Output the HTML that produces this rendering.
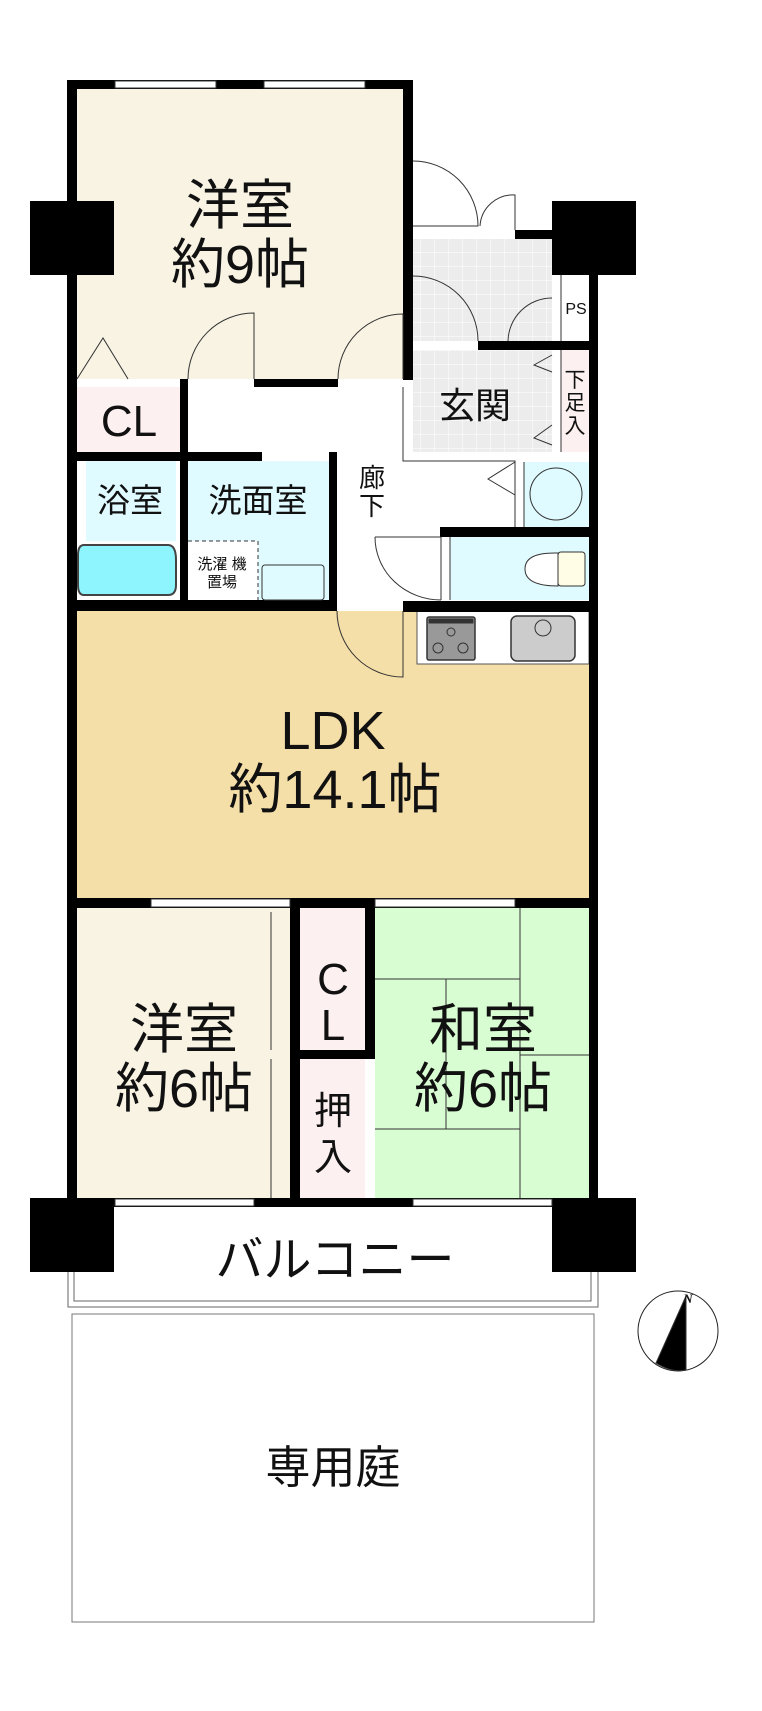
<!DOCTYPE html>
<html><head><meta charset="utf-8"><style>
html,body{margin:0;padding:0;background:#fff;}
svg{display:block}
text{font-family:"Liberation Sans","Noto Sans CJK JP",sans-serif;fill:#111;text-anchor:middle;}
</style></head><body>
<svg width="762" height="1711" viewBox="0 0 762 1711" xmlns="http://www.w3.org/2000/svg">
<defs>
<pattern id="tile" width="14" height="14" patternUnits="userSpaceOnUse">
<rect width="14" height="14" fill="#ececec"/><path d="M0 0H14M0 0V14" stroke="#fff" stroke-width="1"/></pattern>
</defs>
<!-- fills -->
<rect x="77" y="89" width="326" height="290" fill="#f8f3e3"/>
<rect x="77" y="387" width="103" height="65" fill="#fdf0f0"/>
<rect x="77" y="461" width="103" height="139" fill="#fff"/>
<rect x="86" y="461" width="90" height="80" fill="#dffbff"/>
<rect x="188" y="461" width="141" height="139" fill="#dffbff"/>
<rect x="188" y="541" width="70" height="59" fill="#fff"/>
<rect x="413" y="239" width="139" height="102" fill="url(#tile)"/>
<rect x="413" y="350" width="139" height="102" fill="url(#tile)"/>
<rect x="561" y="350" width="28" height="102" fill="#fdf0f0"/>
<rect x="524" y="462" width="65" height="65" fill="#dffbff"/>
<rect x="450" y="536" width="139" height="64" fill="#dffbff"/>
<rect x="77" y="611" width="512" height="287" fill="#f5dfa9"/>
<rect x="417" y="611" width="172" height="53" fill="#fff" stroke="#555" stroke-width="1"/>
<rect x="77" y="908" width="213" height="290" fill="#f8f3e3"/>
<rect x="300" y="908" width="65" height="142" fill="#fdf0f0"/>
<rect x="300" y="1059" width="65" height="139" fill="#fdf0f0"/>
<rect x="375" y="908" width="214" height="290" fill="#d9fdd3"/>
<g stroke="#333" stroke-width="1" fill="none">
<path d="M520 908V1198M375 979H520M446 979V1129M520 1055H589M375 1129H520"/>
</g>
<!-- walls -->
<g fill="#000">
<rect x="67" y="80" width="346" height="9"/>
<rect x="67" y="80" width="10" height="1127"/>
<rect x="403" y="80" width="10" height="300"/>
<rect x="30" y="201" width="84" height="74"/>
<rect x="552" y="201" width="84" height="74"/>
<rect x="515" y="230" width="40" height="9"/>
<rect x="589" y="275" width="9" height="932"/>
<rect x="478" y="341" width="120" height="9"/>
<rect x="254" y="379" width="84" height="8"/>
<rect x="180" y="379" width="8" height="232"/>
<rect x="67" y="452" width="195" height="9"/>
<rect x="329" y="452" width="8" height="159"/>
<rect x="440" y="527" width="158" height="10"/>
<rect x="67" y="600" width="270" height="11"/>
<rect x="403" y="601" width="195" height="11"/>
<rect x="67" y="898" width="531" height="10"/>
<rect x="290" y="908" width="10" height="299"/>
<rect x="365" y="908" width="10" height="151"/>
<rect x="300" y="1050" width="75" height="9"/>
<rect x="67" y="1198" width="531" height="9"/>
<rect x="30" y="1198" width="84" height="74"/>
<rect x="552" y="1198" width="84" height="74"/>
</g>
<!-- windows -->
<g fill="#fff" stroke="#333" stroke-width="1">
<rect x="115" y="81" width="101" height="7"/><rect x="264" y="81" width="101" height="7"/>
<rect x="151" y="899" width="139" height="8"/><rect x="375" y="899" width="140" height="8"/>
<rect x="115" y="1199" width="139" height="7"/><rect x="413" y="1199" width="139" height="7"/>
</g>
<!-- doors / arcs -->
<g stroke="#333" stroke-width="1" fill="none">
<path d="M188 379A66 66 0 0 1 254 313V379"/>
<path d="M338 379A65 65 0 0 1 403 314V379"/>
<path d="M77 379L103 338L128 379"/>
<path d="M413 161A65 65 0 0 1 478 226H413"/>
<path d="M480 226A33 33 0 0 1 515 195V230"/>
<path d="M413 276A65 65 0 0 1 478 341"/>
<path d="M508 341A44 44 0 0 1 552 298"/>
<path d="M375 537H441M375 537A66 63 0 0 0 441 600"/>
<path d="M441 537V600M450 537V600"/>
<path d="M337 611A66 66 0 0 0 403 677V611"/>
<path d="M552 355L534 365L552 372M552 425L534 438L552 445M515 462L488 479L515 495"/>
<path d="M403 387V461H515V527M515 462V527M524 462V527"/>
<path d="M561 275V341M561 350V452"/>
<circle cx="556" cy="494" r="26"/>
<path d="M258 541V600M188 541H258" stroke-dasharray="4 3"/>
<rect x="262" y="565" width="62" height="35" rx="3"/>
<path d="M84 545H168Q176 545 176 560V585Q176 595 168 595H84Q78 595 78 585V555Q78 545 84 545Z" fill="#8ef5ff" stroke="#444" stroke-width="2"/>
<path d="M558 553Q525 552 525 569Q525 586 558 586Z" fill="#fff"/>
<rect x="558" y="552" width="27" height="34" rx="3" fill="#fffde6"/>
<rect x="427" y="617" width="48" height="43" rx="2" fill="#999" stroke="#333" stroke-width="1.5"/>
<rect x="429" y="619" width="44" height="4" fill="#333"/>
<circle cx="438" cy="648" r="5"/><circle cx="463" cy="648" r="5"/><circle cx="451" cy="632" r="4"/>
<rect x="511" y="616" width="64" height="45" rx="6" fill="#ccc" stroke="#333" stroke-width="1.5"/>
<circle cx="543" cy="628" r="8" fill="#ccc"/>
<path d="M271 1059V1198M271 912V1050"/>
<!-- balcony & garden -->
<path d="M68 1272V1307H598V1272M74 1272V1301H591V1272" stroke="#666"/>
<rect x="72" y="1314" width="522" height="308" stroke="#777"/>
<ellipse cx="678" cy="1331" rx="40" ry="40" stroke="#222"/>
<path d="M686 1296L656 1363Q672 1373 686 1370Z" fill="#000"/>
</g>
<text x="688" y="1303" style="font-size:13px;font-family:'Liberation Serif',serif;font-style:italic;font-weight:bold">N</text>
<!-- labels -->
<text x="240" y="224" font-size="54">洋室</text>
<text x="240" y="283" font-size="54">約9帖</text>
<text x="129" y="436" font-size="44">CL</text>
<text x="475" y="418" font-size="36">玄関</text>
<text x="575" y="387" font-size="21">下</text>
<text x="575" y="410" font-size="21">足</text>
<text x="575" y="433" font-size="21">入</text>
<text x="576" y="314" font-size="16">PS</text>
<text x="130" y="512" font-size="33">浴室</text>
<text x="258" y="512" font-size="33">洗面室</text>
<text x="372" y="487" font-size="26">廊</text>
<text x="372" y="515" font-size="26">下</text>
<text x="222" y="569" font-size="15">洗濯 機</text>
<text x="222" y="587" font-size="15">置場</text>
<text x="333" y="749" font-size="54">LDK</text>
<text x="335" y="808" font-size="54">約14.1帖</text>
<text x="184" y="1048" font-size="54">洋室</text>
<text x="184" y="1107" font-size="54">約6帖</text>
<text x="333" y="994" font-size="44">C</text>
<text x="333" y="1040" font-size="44">L</text>
<text x="333" y="1124" font-size="38">押</text>
<text x="333" y="1170" font-size="38">入</text>
<text x="483" y="1048" font-size="54">和室</text>
<text x="483" y="1107" font-size="54">約6帖</text>
<text x="335" y="1276" font-size="48">バルコニー</text>
<text x="333" y="1483" font-size="45">専用庭</text>
</svg>
</body></html>
